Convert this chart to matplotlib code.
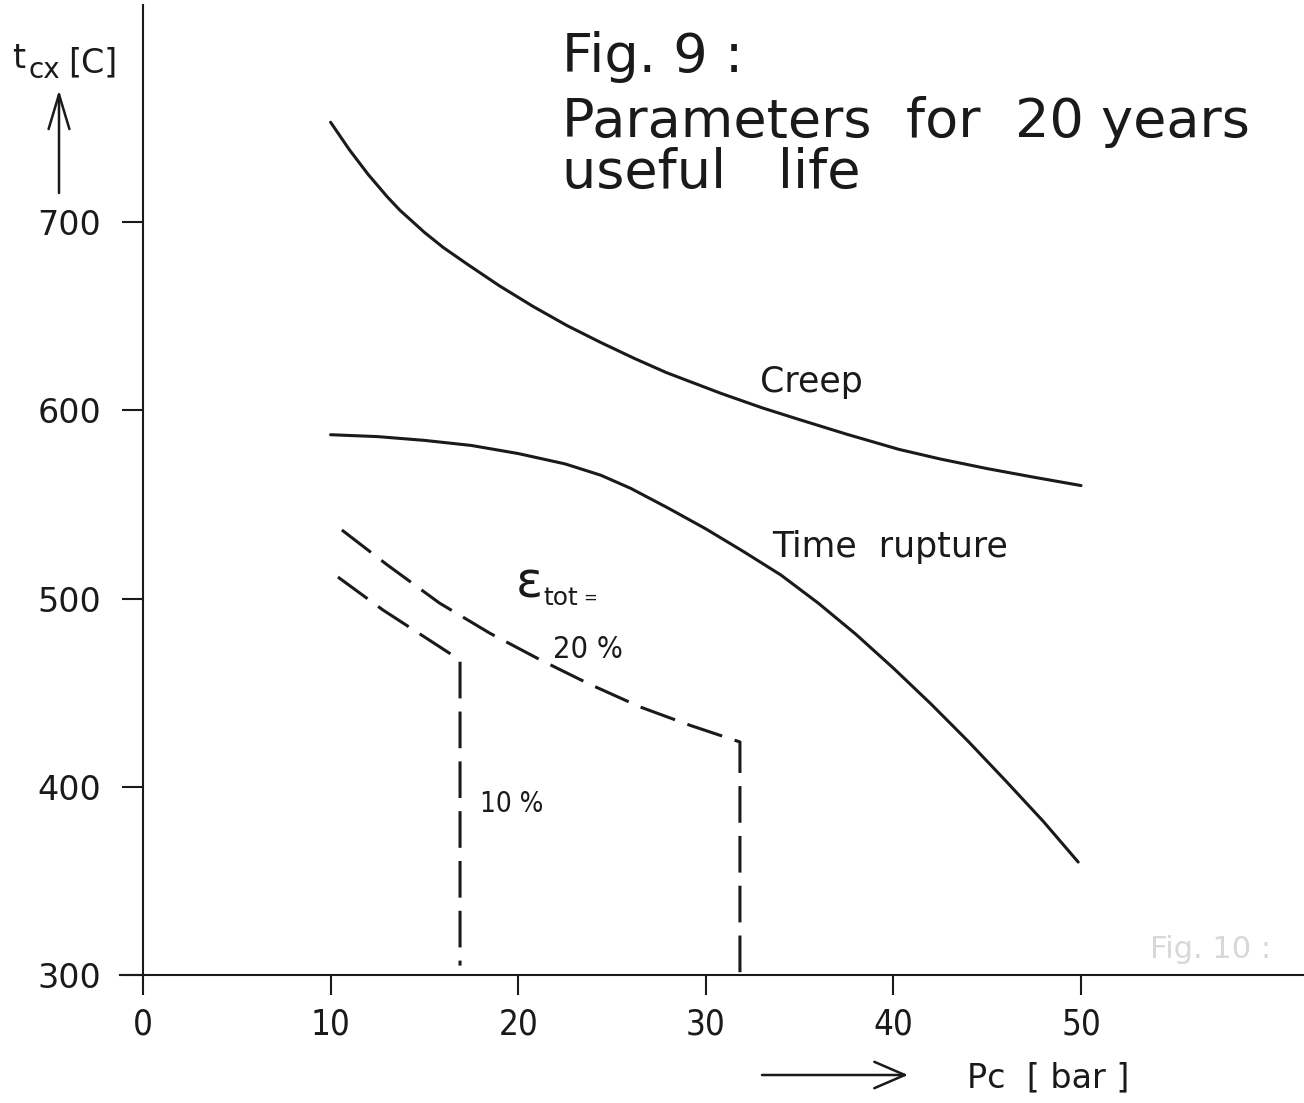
import matplotlib
matplotlib.use("Agg")
import matplotlib.pyplot as plt
from matplotlib import font_manager as fm

# ---------------- data ----------------
x_ticks = [0, 10, 20, 30, 40, 50]
y_ticks = [300, 400, 500, 600, 700]

creep_p = [10, 11, 12, 13, 13.7, 15, 16, 17.3, 19, 20.8, 22.6, 24.4, 26.2, 27.9,
           30.8, 33, 35, 37.5, 40.3, 42.5, 45, 47.5, 50]
creep_t = [753, 738.4, 725.3, 713.6, 706.2, 694.5, 686.5, 677.5, 666.1, 655.1, 645, 636, 627.5, 620,
           609, 601.3, 595, 587.3, 579.2, 574.1, 569, 564.4, 560]

rupture_p = [10, 12.5, 15, 17.5, 20, 22.5, 24.4, 26, 28, 30, 32, 34, 36, 38,
             40, 42, 44, 46, 48, 49.85]
rupture_t = [587, 586, 584, 581.3, 577, 571.5, 565.5, 558.5, 548, 537, 525, 512.5, 497.5, 481,
             463, 444, 424, 403, 381.5, 360]

eps20_p = [10.6, 13, 15.8, 18.5, 21.2, 23.8, 26.5, 29.2, 31.82, 31.82]
eps20_t = [536.4, 518, 497.6, 481.5, 467.3, 454.5, 442.4, 432.5, 423.8, 300]

eps10_p = [10.39, 12.79, 16.90, 16.90]
eps10_t = [511.4, 493.9, 467.3, 305]

# ---------------- fonts ----------------
names = {f.name for f in fm.fontManager.ttflist}
has_cond = any(f.name == "DejaVu Sans" and "condensed" in str(f.stretch)
               for f in fm.fontManager.ttflist)
if has_cond:
    COND = dict(family="DejaVu Sans", stretch="condensed")
elif "Liberation Sans Narrow" in names:
    COND = dict(family="Liberation Sans Narrow")
else:
    COND = dict(family="DejaVu Sans")
NORM = dict(family="DejaVu Sans")

W, H = 1304, 1103
fig = plt.figure(figsize=(W / 100, H / 100), dpi=100)
ax = fig.add_axes([0, 0, 1, 1])
ax.set_facecolor("white")

# pixel mapping: x=0 at px 143, 18.76 px/unit ; y=300 at px 975, 1.8825 px/unit
ax.set_xlim((0 - 143) / 18.76, (W - 143) / 18.76)
ax.set_ylim(300 - (H - 975) / 1.8825, 300 + 975 / 1.8825)

for s in ("top", "right"):
    ax.spines[s].set_visible(False)
ax.spines["left"].set_position(("data", 0))
ax.spines["bottom"].set_position(("data", 300))
ax.spines["left"].set_bounds(300, 300 + 970 / 1.8825)
ax.spines["bottom"].set_bounds(-1.2, (W - 143) / 18.76)
for s in ("left", "bottom"):
    ax.spines[s].set_linewidth(1.5)
    ax.spines[s].set_color("#1a1a1a")

ax.set_xticks(x_ticks)
ax.set_yticks(y_ticks)
ax.set_xticklabels([str(v) for v in x_ticks])
ax.set_yticklabels([str(v) for v in y_ticks])
ax.tick_params(axis="x", direction="out", length=14.4, width=1.5, pad=9, colors="#1a1a1a")
ax.tick_params(axis="y", direction="out", length=15, width=1.5, pad=15, colors="#1a1a1a")
for lab in ax.get_xticklabels():
    lab.set_fontsize(25)
    lab.set_family(COND["family"])
    if "stretch" in COND:
        lab.set_fontstretch(COND["stretch"])
for lab in ax.get_yticklabels():
    lab.set_fontsize(24)
    lab.set_family("DejaVu Sans")

# ---------------- curves ----------------
lc = "#1a1a1a"
ax.plot(creep_p, creep_t, color=lc, lw=2.2, solid_capstyle="round", solid_joinstyle="round")
ax.plot(rupture_p, rupture_t, color=lc, lw=2.2, solid_capstyle="round", solid_joinstyle="round")
ax.plot(eps20_p, eps20_t, color=lc, lw=2.2, dashes=(12, 4.3))
ax.plot(eps10_p, eps10_t, color=lc, lw=2.2, dashes=(12, 4.3))


def px(x, y):
    return x / W, 1 - y / H


def ftext(x, y, s, size, fp=NORM, color="#1a1a1a", **kw):
    fx, fy = px(x, y)
    fig.text(fx, fy, s, fontsize=size, color=color, ha="left", va="baseline", **fp, **kw)


# ---------------- faint bleed-through from the next page (scan artifact) ----------------
ftext(1150, 958, "Fig. 10 :", 22, color="#d8d8d8", zorder=0)

# ---------------- title ----------------
ftext(562, 72, "Fig. 9 :", 39)
ftext(562, 137, "Parameters  for  20 years", 39)
ftext(562, 188, "useful   life", 39)

# ---------------- curve labels ----------------
ftext(760, 392, "Creep", 25)
ftext(772, 557, "Time  rupture", 25)
ftext(516, 597, "ε", 36)
ftext(543, 605, "tot", 18)
ftext(583, 603, "=", 12)
ftext(553, 658, "20 %", 22, fp=COND)
ftext(480, 812, "10 %", 20, fp=COND)

# ---------------- axis labels ----------------
ftext(12, 68, "t", 24)
ftext(28, 78, "cx", 20)
ftext(68, 72, "[C]", 24)
ftext(967, 1087, "Pc  [ bar ]", 24)

# arrows
ax.annotate("", xy=px(59, 90), xytext=px(59, 193), xycoords="figure fraction",
            textcoords="figure fraction",
            arrowprops=dict(arrowstyle="->, head_length=2.5, head_width=0.75",
                            mutation_scale=10, lw=1.8, color=lc, shrinkA=0, shrinkB=0))
ax.annotate("", xy=px(908, 1075), xytext=px(762, 1075), xycoords="figure fraction",
            textcoords="figure fraction",
            arrowprops=dict(arrowstyle="->, head_length=2.2, head_width=0.95",
                            mutation_scale=10, lw=1.8, color=lc, shrinkA=0, shrinkB=0))

fig.savefig("out.png", dpi=100, facecolor="white")
